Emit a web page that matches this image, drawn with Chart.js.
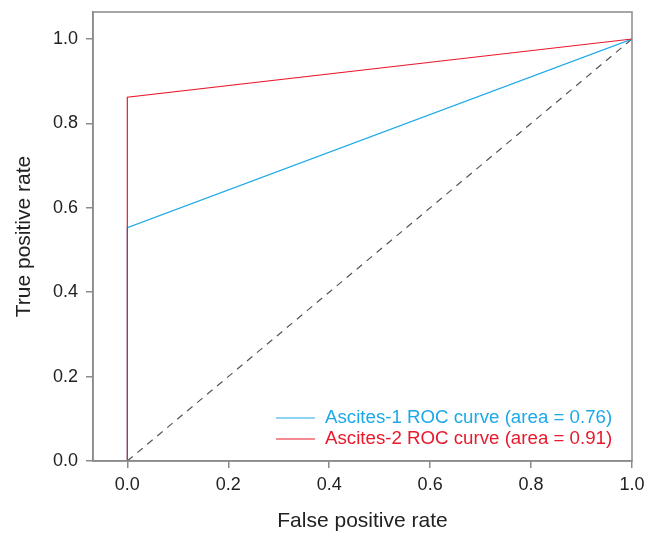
<!DOCTYPE html>
<html>
<head>
<meta charset="utf-8">
<script src="https://cdn.jsdelivr.net/npm/chart.js@4.4.1/dist/chart.umd.min.js"></script>
<style>
  html, body { margin: 0; padding: 0; background: #fff; }
  #wrap { width: 658px; height: 534px; }
</style>
</head>
<body>
<div id="wrap"><canvas id="roc"></canvas></div>
<script>
// ROC points (false positive rate, true positive rate)
const fpr1 = [0, 0, 1];
const tpr1 = [0, 0.553, 1];
const fpr2 = [0, 0, 1];
const tpr2 = [0, 0.862, 1];
const chanceLine = [0, 1];
const seriesLabels = ["Ascites-1 ROC curve (area = 0.76)", "Ascites-2 ROC curve (area = 0.91)"];
const xTicks = [0, 0.2, 0.4, 0.6, 0.8, 1.0];
const yTicks = [0, 0.2, 0.4, 0.6, 0.8, 1.0];

const BLUE = "#1ca9e9";
const RED = "#e8192c";
const AXIS = "#8a8a8a";

const toPoints = (xs, ys) => xs.map((x, i) => ({ x: x, y: ys[i] }));

// box around the plot
const boxPlugin = {
  id: "box",
  afterDraw(chart) {
    const { ctx, chartArea: a } = chart;
    ctx.save();
    ctx.strokeStyle = AXIS;
    ctx.lineWidth = 1.5;
    ctx.strokeRect(a.left, a.top, a.right - a.left, a.bottom - a.top);
    ctx.restore();
  }
};

// legend drawn inside the bottom right of the plot
const insideLegend = {
  id: "insideLegend",
  afterDraw(chart) {
    const { ctx, chartArea: a } = chart;
    const colors = [BLUE, RED];
    ctx.save();
    ctx.font = "18.7px 'Liberation Sans', Arial, sans-serif";
    ctx.textBaseline = "middle";
    seriesLabels.forEach((txt, i) => {
      const y = a.bottom - 43 + i * 21;
      const x0 = a.left + 183;
      ctx.strokeStyle = colors[i];
      ctx.lineWidth = 1;
      ctx.beginPath();
      ctx.moveTo(x0, y);
      ctx.lineTo(x0 + 39, y);
      ctx.stroke();
      ctx.fillStyle = colors[i];
      ctx.fillText(txt, x0 + 49, y);
    });
    ctx.restore();
  }
};

const tickFont = { family: "'Liberation Sans', Arial, sans-serif", size: 18 };
const titleFont = { family: "'Liberation Sans', Arial, sans-serif", size: 21 };

new Chart(document.getElementById("roc"), {
  type: "scatter",
  data: {
    datasets: [
      {
        label: seriesLabels[0],
        data: toPoints(fpr1, tpr1),
        showLine: true,
        borderColor: BLUE,
        borderWidth: 1.2,
        pointRadius: 0,
        order: 2
      },
      {
        label: seriesLabels[1],
        data: toPoints(fpr2, tpr2),
        showLine: true,
        borderColor: RED,
        borderWidth: 1.2,
        pointRadius: 0,
        order: 1
      },
      {
        label: "chance",
        data: toPoints(chanceLine, chanceLine),
        showLine: true,
        borderColor: "#555",
        borderWidth: 1.2,
        borderDash: [7, 6],
        pointRadius: 0,
        order: 3
      }
    ]
  },
  options: {
    responsive: true,
    maintainAspectRatio: false,
    animation: false,
    layout: { padding: { top: 12, right: 26, left: 0, bottom: 0 } },
    plugins: {
      legend: { display: false },
      tooltip: { enabled: false }
    },
    scales: {
      x: {
        type: "linear",
        min: -0.068,
        max: 1.0,
        afterBuildTicks: (s) => { s.ticks = xTicks.map(v => ({ value: v })); },
        afterFit: (s) => { s.height = 73; s.paddingLeft = 0; s.paddingRight = 0; },
        grid: { drawOnChartArea: false, drawTicks: true, tickLength: 7, color: AXIS, lineWidth: 1.5 },
        border: { display: true, color: AXIS, width: 1.5 },
        ticks: { color: "#222", font: tickFont, padding: 6, maxRotation: 0, callback: v => v.toFixed(1) },
        title: { display: true, text: "False positive rate", color: "#222", font: titleFont, padding: { top: 0, bottom: 0 } }
      },
      y: {
        type: "linear",
        min: 0,
        max: 1.064,
        afterBuildTicks: (s) => { s.ticks = yTicks.map(v => ({ value: v })); },
        afterFit: (s) => { s.width = 93; s.paddingTop = 0; s.paddingBottom = 0; },
        grid: { drawOnChartArea: false, drawTicks: true, tickLength: 7, color: AXIS, lineWidth: 1.5 },
        border: { display: true, color: AXIS, width: 1.5 },
        ticks: { color: "#222", font: tickFont, padding: 8, callback: v => v.toFixed(1) },
        title: { display: true, text: "True positive rate", color: "#222", font: titleFont, padding: { top: 12, bottom: 0 } }
      }
    }
  },
  plugins: [boxPlugin, insideLegend]
});
</script>
</body>
</html>
